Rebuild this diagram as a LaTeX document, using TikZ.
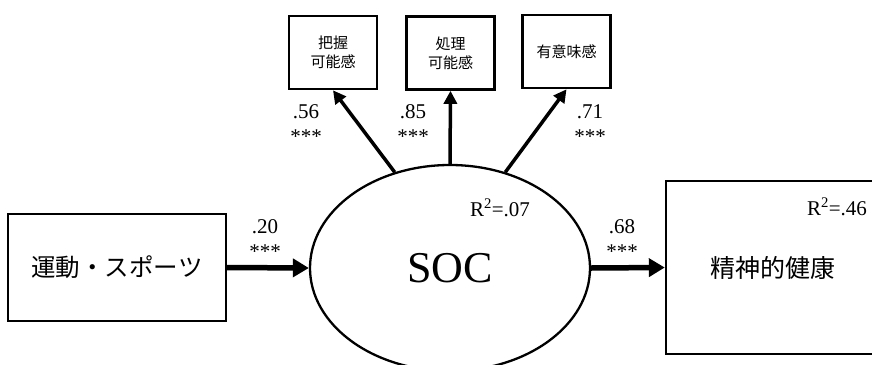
\documentclass[tikz,border=0pt]{standalone}
\usepackage{fontspec}
\setmainfont{Liberation Serif}
\newfontfamily\cjk{Noto Sans CJK JP}
\usetikzlibrary{shapes.geometric,arrows.meta}
\tikzset{
  box/.style={draw, line width=2.4pt, inner sep=0pt, align=center},
  smallbox/.style={box, line width=2.6pt, minimum width=88pt, minimum height=73pt, font=\cjk\fontsize{15}{18}\selectfont},
  num/.style={inner sep=0pt, font=\fontsize{21}{25}\selectfont},
  bigarrow/.style={line width=5.5pt, -{Triangle[length=16pt,width=18pt]}},
  uparrow/.style={line width=3.5pt, -{Triangle[length=13pt,width=13pt]}},
}
\begin{document}
\begin{tikzpicture}[x=1pt,y=-1pt]
\useasboundingbox (0,0) rectangle (872,364);
\clip (0,0) rectangle (872,364);
\node[box, minimum width=218pt, minimum height=107pt, font=\cjk\fontsize{24.5}{28}\selectfont] (sport) at (117,267.5) {運動・スポーツ};
\node[draw, ellipse, line width=2.3pt, inner sep=0pt, minimum width=280pt, minimum height=206pt, font=\fontsize{44}{50}\selectfont] (soc) at (450,268) {SOC};
\node[box, minimum width=214pt, minimum height=173pt, font=\cjk\fontsize{25}{28}\selectfont] (health) at (773,267.5) {精神的健康};
\node[smallbox] (haaku) at (333,52.5) {把握\\[1pt]可能感};
\node[smallbox] (shori) at (450.5,53) {処理\\[1pt]可能感};
\node[smallbox] (imi) at (566.5,51.5) {有意味感};
\node[num] (r1) at (500,208) {R\textsuperscript{2}=.07};
\node[num] (r2) at (837,207) {R\textsuperscript{2}=.46};
\draw[bigarrow] (sport.east) -- (soc.west);
\draw[bigarrow] (soc.east) -- (health.west);
\draw[uparrow] (soc.120.6) -- (haaku.south);
\draw[uparrow] (soc.north) -- (shori.south);
\draw[uparrow] (soc.60.8) -- (imi.south);
\node[num] (c1) at (265,227) {.20};
\node[num] (s1) at (265,252) {***};
\node[num] (c2) at (622,227) {.68};
\node[num] (s2) at (622,252) {***};
\node[num] (c3) at (306,112) {.56};
\node[num] (s3) at (306,137) {***};
\node[num] (c4) at (413,112) {.85};
\node[num] (s4) at (413,137) {***};
\node[num] (c5) at (590,112) {.71};
\node[num] (s5) at (590,137) {***};
\end{tikzpicture}
\end{document}
